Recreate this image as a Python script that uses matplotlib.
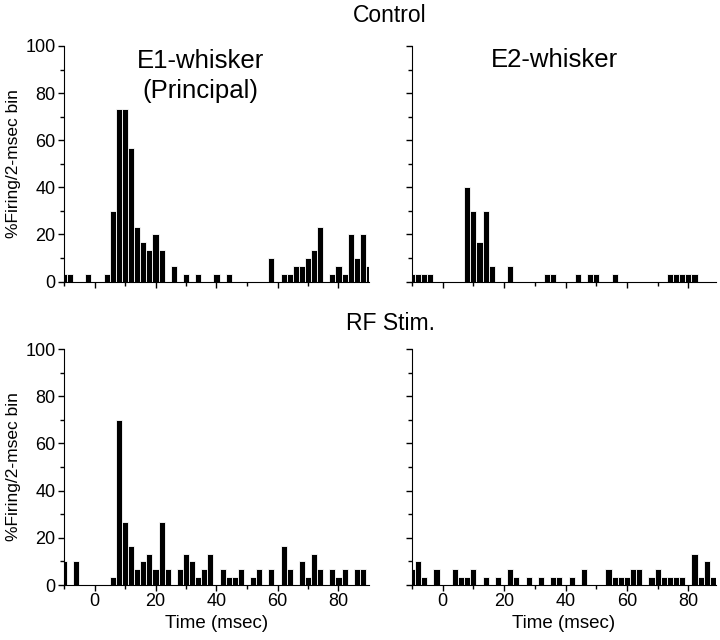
import numpy as np
import matplotlib.pyplot as plt

plt.rcParams['font.family'] = ['Liberation Sans', 'DejaVu Sans']

# bin centres (msec) and % firing per 2-msec bin
ctrl_e1_t = [-10, -8, -2, 4, 6, 8, 10, 12, 14, 16, 18, 20, 22, 26, 30, 34, 40, 44,
             58, 62, 64, 66, 68, 70, 72, 74, 78, 80, 82, 84, 86, 88, 90]
ctrl_e1_v = [3.3, 3.3, 3.3, 3.3, 30, 73.3, 73.3, 56.7, 23.3, 16.7, 13.3, 20, 13.3, 6.7, 3.3, 3.3, 3.3, 3.3,
             10, 3.3, 3.3, 6.7, 6.7, 10, 13.3, 23.3, 3.3, 6.7, 3.3, 20, 10, 20, 6.7]

ctrl_e2_t = [-10, -8, -6, -4, 8, 10, 12, 14, 16, 22, 34, 36, 44, 48, 50, 56, 74, 76, 78, 80, 82]
ctrl_e2_v = [3.3, 3.3, 3.3, 3.3, 40, 30, 16.7, 30, 6.7, 6.7, 3.3, 3.3, 3.3, 3.3, 3.3, 3.3,
             3.3, 3.3, 3.3, 3.3, 3.3]

rf_e1_t = [-10, -6, 6, 8, 10, 12, 14, 16, 18, 20, 22, 24, 28, 30, 32, 34, 36, 38,
           42, 44, 46, 48, 52, 54, 58, 62, 64, 68, 70, 72, 74, 78, 80, 82, 86, 88]
rf_e1_v = [10, 10, 3.3, 70, 26.7, 16.7, 6.7, 10, 13.3, 6.7, 26.7, 6.7, 6.7, 13.3, 10, 3.3, 6.7, 13.3,
           6.7, 3.3, 3.3, 6.7, 3.3, 6.7, 6.7, 16.7, 6.7, 10, 3.3, 13.3, 6.7, 6.7, 3.3, 6.7, 6.7, 6.7]

rf_e2_t = [-10, -8, -6, -2, 4, 6, 8, 10, 14, 18, 22, 24, 28, 32, 36, 38, 42, 46,
           54, 56, 58, 60, 62, 64, 68, 70, 72, 74, 76, 78, 82, 84, 86, 88]
rf_e2_v = [6.7, 10, 3.3, 6.7, 6.7, 3.3, 3.3, 6.7, 3.3, 3.3, 6.7, 3.3, 3.3, 3.3, 3.3, 3.3, 3.3, 6.7,
           6.7, 3.3, 3.3, 3.3, 6.7, 6.7, 3.3, 6.7, 3.3, 3.3, 3.3, 3.3, 13.3, 3.3, 10, 3.3]

fig = plt.figure(figsize=(7.2, 6.4), dpi=100)

ax_tl = fig.add_axes([64/720, 1 - 281.5/640, 305/720, 235.5/640])
ax_tr = fig.add_axes([412/720, 1 - 281.5/640, 304/720, 235.5/640])
ax_bl = fig.add_axes([64/720, 1 - 585/640, 305/720, 236/640])
ax_br = fig.add_axes([412/720, 1 - 585/640, 304/720, 236/640])

panels = [(ax_tl, ctrl_e1_t, ctrl_e1_v, 90), (ax_tr, ctrl_e2_t, ctrl_e2_v, 89),
          (ax_bl, rf_e1_t, rf_e1_v, 90), (ax_br, rf_e2_t, rf_e2_v, 89)]

for ax, t, v, xmax in panels:
    ax.bar(t, v, width=2.0, color='black', edgecolor='white', linewidth=0.6, align='center')
    ax.set_xlim(-10, xmax)
    ax.set_ylim(0, 100)
    ax.spines['top'].set_visible(False)
    ax.spines['right'].set_visible(False)
    ax.set_xticks([0, 20, 40, 60, 80])
    ax.set_xticks([-10, 10, 30, 50, 70], minor=True)
    ax.set_yticks([0, 20, 40, 60, 80, 100])
    ax.set_yticks([10, 30, 50, 70, 90], minor=True)
    ax.tick_params(which='major', direction='out', length=4, width=1, labelsize=13, pad=2)
    ax.tick_params(which='minor', direction='out', length=3, width=1)

for ax in (ax_tl, ax_tr):
    ax.tick_params(labelbottom=False)
for ax in (ax_tr, ax_br):
    ax.tick_params(labelleft=False)
for ax in (ax_bl, ax_br):
    ax.set_xlabel("Time (msec)", fontsize=13.5, labelpad=3)
for ax in (ax_tl, ax_bl):
    ax.set_ylabel("%Firing/2-msec bin", fontsize=12.5, labelpad=3)

fig.text(390/720, 1 - 15/640, "Control", fontsize=16.5, ha='center', va='center')
fig.text(390/720, 1 - 323/640, "RF Stim.", fontsize=16.5, ha='center', va='center')
ax_tl.text(0.446, 0.873, "E1-whisker\n(Principal)", transform=ax_tl.transAxes,
           fontsize=18.5, ha='center', va='center', linespacing=1.3)
ax_tr.text(0.47, 0.94, "E2-whisker", transform=ax_tr.transAxes,
           fontsize=18.5, ha='center', va='center')

fig.savefig("out.png", dpi=100)
